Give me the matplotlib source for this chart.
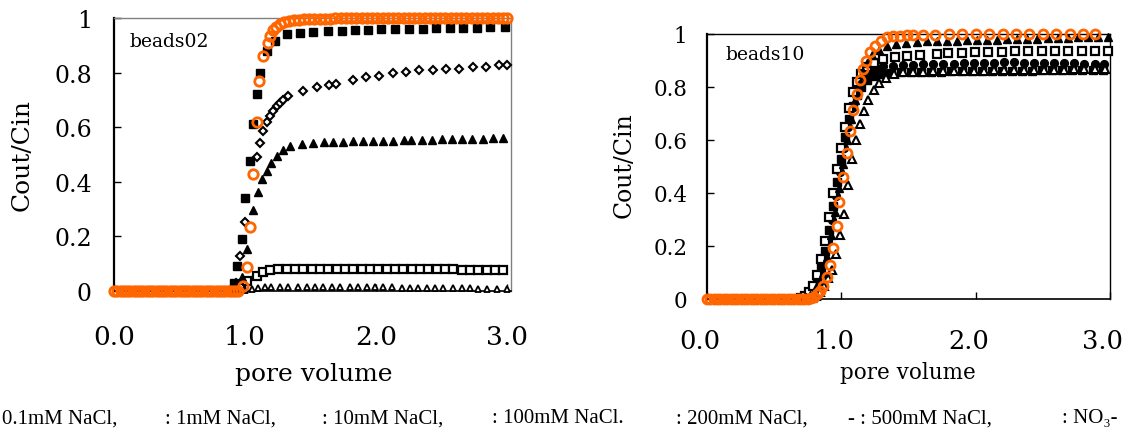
import matplotlib
matplotlib.use("Agg")
import matplotlib.pyplot as plt
from matplotlib.transforms import ScaledTranslation

ORANGE = "#ff6600"

# ---------------- beads02 (left panel) ----------------
b02_no3_x = [0.0, 0.025, 0.05, 0.075, 0.1, 0.125, 0.15, 0.175, 0.2, 0.225,
             0.25, 0.275, 0.3, 0.325, 0.35, 0.375, 0.4, 0.425, 0.45, 0.475,
             0.5, 0.525, 0.55, 0.575, 0.6, 0.625, 0.65, 0.675, 0.7, 0.725,
             0.75, 0.775, 0.8, 0.825, 0.85, 0.875, 0.9, 0.925, 0.95,
             0.985, 1.015, 1.04, 1.06, 1.09, 1.105, 1.14, 1.175, 1.19, 1.215,
             1.24, 1.27, 1.30, 1.335, 1.37, 1.41, 1.45,
             1.49, 1.53, 1.57, 1.61, 1.65, 1.69, 1.73, 1.77, 1.81, 1.85,
             1.89, 1.93, 1.97, 2.01, 2.05, 2.09, 2.13, 2.17, 2.21, 2.25,
             2.29, 2.33, 2.37, 2.41, 2.45, 2.49, 2.53, 2.57, 2.61, 2.65,
             2.69, 2.73, 2.77, 2.81, 2.85, 2.89, 2.93, 2.97, 3.0]
b02_no3_y = [0, 0, 0, 0, 0, 0, 0, 0, 0, 0,
             0, 0, 0, 0, 0, 0, 0, 0, 0, 0,
             0, 0, 0, 0, 0, 0, 0, 0, 0, 0,
             0, 0, 0, 0, 0, 0, 0, 0, 0,
             0.02, 0.088, 0.234, 0.43, 0.62, 0.77, 0.86, 0.91, 0.935, 0.955,
             0.968, 0.978, 0.985, 0.989, 0.992, 0.994, 0.996,
             0.997, 0.997, 0.998, 0.998, 0.998, 0.999, 0.999, 0.999, 0.999, 1.0,
             1.0, 1.0, 1.0, 1.0, 1.0, 1.0, 1.0, 1.0, 1.0, 1.0,
             1.0, 1.0, 1.0, 1.0, 1.0, 1.0, 1.0, 1.0, 1.0, 1.0,
             1.0, 1.0, 1.0, 1.0, 1.0, 1.0, 1.0, 1.0, 1.0]

# 0.1mM NaCl, filled squares
b02_s01_x = [0.89, 0.915, 0.937, 0.975, 1.0, 1.04, 1.06, 1.09, 1.115, 1.165,
             1.23, 1.318, 1.42, 1.517, 1.63, 1.74, 1.84, 1.94, 2.04, 2.145,
             2.254, 2.356, 2.46, 2.565, 2.667, 2.77, 2.87, 2.985]
b02_s01_y = [0.005, 0.03, 0.092, 0.19, 0.34, 0.475, 0.61, 0.72, 0.80, 0.88,
             0.917, 0.94, 0.944, 0.948, 0.951, 0.953, 0.955, 0.957, 0.958, 0.959,
             0.96, 0.961, 0.962, 0.963, 0.964, 0.965, 0.966, 0.967]

# 1mM NaCl, open diamonds
b02_s1_x = [0.93, 0.965, 1.0, 1.09, 1.115, 1.14, 1.165, 1.19, 1.216, 1.242,
            1.267, 1.292, 1.33, 1.445, 1.547, 1.644, 1.695, 1.827, 1.924, 2.025,
            2.127, 2.229, 2.33, 2.433, 2.534, 2.636, 2.738, 2.84, 2.94, 3.0]
b02_s1_y = [0.03, 0.13, 0.254, 0.49, 0.542, 0.587, 0.618, 0.642, 0.661, 0.679,
            0.689, 0.701, 0.713, 0.734, 0.746, 0.755, 0.758, 0.774, 0.783, 0.789,
            0.799, 0.803, 0.808, 0.81, 0.813, 0.815, 0.819, 0.822, 0.828, 0.829]

# 10mM NaCl, filled triangles
b02_s10_x = [0.94, 0.975, 1.013, 1.063, 1.097, 1.127, 1.165, 1.2, 1.242, 1.292,
             1.344, 1.433, 1.517, 1.6, 1.675, 1.75, 1.827, 1.903, 1.98, 2.056,
             2.132, 2.21, 2.27, 2.35, 2.425, 2.5, 2.578, 2.654, 2.73, 2.82,
             2.895, 2.972]
b02_s10_y = [0.01, 0.05, 0.154, 0.298, 0.361, 0.41, 0.44, 0.47, 0.496, 0.518,
             0.53, 0.538, 0.542, 0.545, 0.546, 0.547, 0.548, 0.549, 0.55, 0.55,
             0.551, 0.552, 0.553, 0.553, 0.554, 0.555, 0.556, 0.556, 0.557, 0.558,
             0.559, 0.56]

# 100mM NaCl, open squares
b02_s100_x = [0.96, 1.013, 1.09, 1.14, 1.19, 1.254, 1.318, 1.382, 1.445, 1.509,
              1.573, 1.636, 1.7, 1.763, 1.827, 1.891, 1.954, 2.018, 2.081, 2.145,
              2.208, 2.272, 2.336, 2.4, 2.463, 2.527, 2.59, 2.654, 2.718, 2.781,
              2.845, 2.908, 2.972]
b02_s100_y = [0.012, 0.038, 0.056, 0.071, 0.078, 0.079, 0.08, 0.081, 0.081, 0.081,
              0.081, 0.081, 0.081, 0.081, 0.081, 0.08, 0.08, 0.08, 0.08, 0.08,
              0.08, 0.08, 0.08, 0.079, 0.079, 0.079, 0.079, 0.078, 0.078, 0.078,
              0.078, 0.077, 0.077]

# 200mM NaCl, open triangles
b02_s200_x = [1.0, 1.05, 1.1, 1.15, 1.2, 1.267, 1.33, 1.407, 1.471, 1.534,
              1.598, 1.662, 1.725, 1.802, 1.865, 1.929, 1.992, 2.056, 2.12, 2.196,
              2.26, 2.323, 2.387, 2.45, 2.514, 2.59, 2.654, 2.718, 2.781, 2.845,
              2.921, 2.998]
b02_s200_y = [0.004, 0.008, 0.012, 0.014, 0.015, 0.016, 0.016, 0.016, 0.016, 0.015,
              0.015, 0.015, 0.015, 0.014, 0.014, 0.014, 0.013, 0.013, 0.013, 0.012,
              0.012, 0.012, 0.011, 0.011, 0.011, 0.01, 0.01, 0.01, 0.009, 0.009,
              0.009, 0.008]

# ---------------- beads10 (right panel) ----------------
b10_no3_x = [0.0, 0.025, 0.05, 0.075, 0.1, 0.125, 0.15, 0.175, 0.2, 0.225,
             0.25, 0.275, 0.3, 0.325, 0.35, 0.375, 0.4, 0.425, 0.45, 0.475,
             0.5, 0.525, 0.55, 0.575, 0.6, 0.625, 0.65, 0.675, 0.7, 0.725,
             0.75, 0.775,
             0.80, 0.82, 0.843, 0.866, 0.891, 0.916, 0.936, 0.966, 0.985, 1.01,
             1.04, 1.065, 1.09, 1.115, 1.139, 1.159, 1.184, 1.214, 1.251, 1.293,
             1.338, 1.387, 1.437, 1.487, 1.536, 1.61, 1.70,
             1.80, 1.90, 2.0, 2.1, 2.2, 2.3, 2.4, 2.5, 2.6, 2.7, 2.8, 2.89]
b10_no3_y = [0, 0, 0, 0, 0, 0, 0, 0, 0, 0,
             0, 0, 0, 0, 0, 0, 0, 0, 0, 0,
             0, 0, 0, 0, 0, 0, 0, 0, 0, 0,
             0.001, 0.003,
             0.009, 0.018, 0.03, 0.05, 0.082, 0.128, 0.194, 0.274, 0.367, 0.459,
             0.551, 0.634, 0.714, 0.774, 0.828, 0.868, 0.899, 0.931, 0.956, 0.975,
             0.987, 0.991, 0.994, 0.996, 0.997, 0.998, 0.998,
             0.999, 0.999, 1.0, 1.0, 1.0, 1.0, 1.0, 1.0, 1.0, 1.0, 1.0, 1.0]

# filled squares
b10_s01_x = [0.70, 0.73, 0.76, 0.79, 0.82, 0.85, 0.88, 0.91, 0.94, 0.97,
             1.00, 1.03, 1.06, 1.09, 1.12, 1.15, 1.19, 1.24, 1.30, 1.37,
             1.445, 1.52, 1.595, 1.67, 1.745, 1.82, 1.895, 1.97, 2.045, 2.12,
             2.195, 2.27, 2.345, 2.42, 2.495, 2.57, 2.645, 2.72, 2.795, 2.87,
             2.945]
b10_s01_y = [0.004, 0.01, 0.02, 0.04, 0.07, 0.12, 0.18, 0.26, 0.35, 0.44,
             0.53, 0.61, 0.68, 0.73, 0.77, 0.80, 0.825, 0.84, 0.848, 0.852,
             0.855, 0.856, 0.857, 0.858, 0.858, 0.859, 0.86, 0.86, 0.86, 0.861,
             0.861, 0.862, 0.862, 0.862, 0.863, 0.863, 0.863, 0.864, 0.864, 0.864,
             0.865]

# filled triangles
b10_s10_x = [0.74, 0.77, 0.80, 0.83, 0.86, 0.89, 0.92, 0.95, 0.98, 1.01,
             1.04, 1.07, 1.10, 1.13, 1.16, 1.19, 1.23, 1.28, 1.34, 1.41,
             1.485, 1.56, 1.635, 1.71, 1.785, 1.86, 1.935, 2.01, 2.085, 2.16,
             2.235, 2.31, 2.385, 2.46, 2.535, 2.61, 2.685, 2.76, 2.835, 2.91,
             2.985]
b10_s10_y = [0.006, 0.015, 0.03, 0.06, 0.10, 0.16, 0.24, 0.33, 0.42, 0.51,
             0.60, 0.68, 0.75, 0.81, 0.855, 0.89, 0.92, 0.94, 0.955, 0.962,
             0.967, 0.97, 0.972, 0.973, 0.974, 0.975, 0.976, 0.977, 0.978, 0.979,
             0.98, 0.981, 0.982, 0.983, 0.984, 0.985, 0.986, 0.987, 0.988, 0.989,
             0.99]

# open squares
b10_s100_x = [0.70, 0.73, 0.76, 0.79, 0.82, 0.85, 0.88, 0.91, 0.94, 0.97,
              1.00, 1.03, 1.06, 1.09, 1.12, 1.15, 1.19, 1.24, 1.313, 1.4,
              1.487, 1.586, 1.71, 1.797, 1.897, 1.996, 2.095, 2.194, 2.293, 2.393,
              2.492, 2.591, 2.691, 2.79, 2.889, 2.988]
b10_s100_y = [0.005, 0.012, 0.025, 0.05, 0.09, 0.15, 0.22, 0.31, 0.40, 0.49,
              0.57, 0.65, 0.72, 0.78, 0.82, 0.85, 0.875, 0.89, 0.906, 0.912,
              0.917, 0.921, 0.925, 0.927, 0.929, 0.931, 0.932, 0.933, 0.934, 0.935,
              0.935, 0.936, 0.936, 0.937, 0.937, 0.937]

# open triangles
b10_s200_x = [0.78, 0.81, 0.84, 0.87, 0.90, 0.93, 0.96, 0.99, 1.02, 1.05,
              1.08, 1.11, 1.14, 1.17, 1.20, 1.24, 1.28, 1.33, 1.39, 1.46,
              1.535, 1.61, 1.685, 1.76, 1.835, 1.91, 1.985, 2.06, 2.135, 2.21,
              2.285, 2.36, 2.435, 2.51, 2.585, 2.66, 2.735, 2.81, 2.885, 2.96]
b10_s200_y = [0.005, 0.012, 0.025, 0.05, 0.08, 0.11, 0.17, 0.24, 0.32, 0.43,
              0.53, 0.60, 0.66, 0.71, 0.75, 0.79, 0.815, 0.835, 0.848, 0.855,
              0.857, 0.858, 0.859, 0.86, 0.861, 0.861, 0.862, 0.862, 0.863, 0.863,
              0.864, 0.864, 0.865, 0.865, 0.866, 0.866, 0.867, 0.867, 0.868, 0.868]

# filled circles
b10_s500_x = [0.72, 0.75, 0.78, 0.81, 0.84, 0.87, 0.90, 0.93, 0.96, 0.99,
              1.02, 1.05, 1.08, 1.11, 1.14, 1.17, 1.21, 1.26, 1.31, 1.385,
              1.46, 1.535, 1.61, 1.685, 1.76, 1.835, 1.91, 1.985, 2.06, 2.135,
              2.21, 2.285, 2.36, 2.435, 2.51, 2.585, 2.66, 2.735, 2.81, 2.885,
              2.955]
b10_s500_y = [0.005, 0.012, 0.025, 0.05, 0.09, 0.15, 0.22, 0.30, 0.39, 0.48,
              0.57, 0.65, 0.72, 0.77, 0.81, 0.84, 0.86, 0.872, 0.878, 0.88,
              0.882, 0.884, 0.885, 0.886, 0.887, 0.888, 0.89, 0.89, 0.891, 0.892,
              0.893, 0.893, 0.892, 0.892, 0.891, 0.89, 0.89, 0.889, 0.888, 0.887,
              0.885]

y_ticks = [0, 0.2, 0.4, 0.6, 0.8, 1.0]
y_tick_labels = ["0", "0.2", "0.4", "0.6", "0.8", "1"]
x_ticks = [0, 1, 2, 3]
x_tick_labels = ["0.0", "1.0", "2.0", "3.0"]

legend_parts = ["0.1mM NaCl,", ": 1mM NaCl,", ": 10mM NaCl,", ": 100mM NaCl.",
                ": 200mM NaCl,", "- : 500mM NaCl,", ": NO\u2083-"]
legend_xpos = [2, 165, 322, 492, 676, 848, 1062]

SERIF = ["DejaVu Serif"]
W, H = 1128, 435


def mark(ax, x, y, marker, ms, filled=True, color="black", mew=1.0, z=3):
    if filled:
        face = color
    elif marker == "o":
        face = "none"
    else:
        face = "white"
    ax.plot(x, y, linestyle="none", marker=marker, markersize=ms,
            markerfacecolor=face, markeredgecolor=color, markeredgewidth=mew,
            clip_on=False, zorder=z)


def style_axes(ax, xmax, ysize, ypad, xsize, xpad, grey_frame):
    ax.set_xlim(0, xmax)
    ax.set_ylim(0, 1)
    ax.set_yticks(y_ticks)
    ax.set_yticklabels(y_tick_labels, family=SERIF, fontsize=ysize)
    ax.set_xticks(x_ticks)
    ax.set_xticklabels(x_tick_labels, family=SERIF, fontsize=xsize)
    ax.tick_params(axis="y", direction="in", length=5, width=1, pad=ypad)
    ax.tick_params(axis="x", direction="in", length=5, width=1, pad=xpad)
    ax.spines["left"].set_linewidth(1.6)
    ax.spines["bottom"].set_linewidth(1.2)
    for side in ("top", "right"):
        ax.spines[side].set_linewidth(1.0)
        ax.spines[side].set_color("#808080" if grey_frame else "black")


fig = plt.figure(figsize=(W / 100, H / 100), dpi=100)

# left panel
ax1 = fig.add_axes([114 / W, 1 - 292 / H, 397 / W, 273 / H])
mark(ax1, b02_s200_x, b02_s200_y, "^", 5.0, filled=False, mew=1.3)
mark(ax1, b02_s100_x, b02_s100_y, "s", 5.3, filled=False, mew=1.6)
mark(ax1, b02_s10_x, b02_s10_y, "^", 6.4)
mark(ax1, b02_s1_x, b02_s1_y, "D", 4.2, filled=False, mew=1.5)
mark(ax1, b02_s01_x, b02_s01_y, "s", 5.8)
mark(ax1, b02_no3_x, b02_no3_y, "o", 6.8, filled=False, color=ORANGE, mew=2.0, z=4)
style_axes(ax1, 3.03, 17, 16, 19, 24, True)
ax1.text(0.04, 0.916, "beads02", transform=ax1.transAxes, family=SERIF,
         fontsize=13.5, va="center", ha="left")

# right panel
ax2 = fig.add_axes([707 / W, 1 - 300 / H, 403 / W, 265 / H])
mark(ax2, b10_s01_x, b10_s01_y, "s", 5.3)
mark(ax2, b10_s500_x, b10_s500_y, "o", 5.6)
mark(ax2, b10_s200_x, b10_s200_y, "^", 6.0, filled=False, mew=1.5)
mark(ax2, b10_s100_x, b10_s100_y, "s", 5.4, filled=False, mew=1.6)
mark(ax2, b10_s10_x, b10_s10_y, "^", 5.8)
mark(ax2, b10_no3_x, b10_no3_y, "o", 6.5, filled=False, color=ORANGE, mew=2.0, z=4)
style_axes(ax2, 3.0, 15.5, 14, 18.5, 21, False)
shift = ScaledTranslation(-7 / 100, 0, fig.dpi_scale_trans)
for lab in ax2.get_xticklabels():
    lab.set_transform(lab.get_transform() + shift)
ax2.text(0.047, 0.925, "beads10", transform=ax2.transAxes, family=SERIF,
         fontsize=13.5, va="center", ha="left")

# axis titles
fig.text(22 / W, 1 - 155 / H, "Cout/Cin", rotation=90, family=SERIF,
         fontsize=18, ha="center", va="center")
fig.text(624 / W, 1 - 165 / H, "Cout/Cin", rotation=90, family=SERIF,
         fontsize=17, ha="center", va="center")
fig.text(314 / W, 1 - 375 / H, "pore volume", family=SERIF, fontsize=18,
         ha="center", va="center")
fig.text(908 / W, 1 - 373 / H, "pore volume", family=SERIF, fontsize=15.5,
         ha="center", va="center")

# legend line along the bottom (marker symbols are absent in the original)
for part, xp in zip(legend_parts, legend_xpos):
    fig.text(xp / W, 1 - 419 / H, part, family=["Liberation Serif", "DejaVu Serif"],
             fontsize=15, ha="left", va="center")

fig.savefig("out.png", dpi=100)
